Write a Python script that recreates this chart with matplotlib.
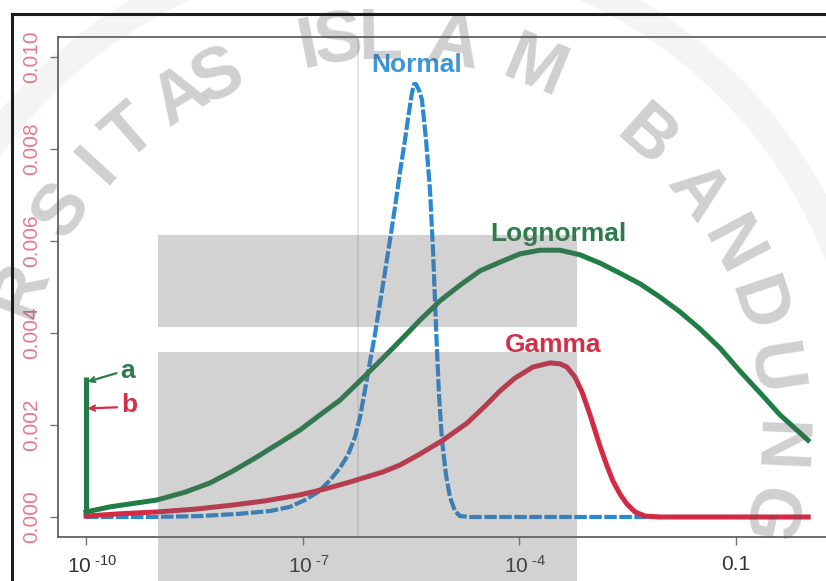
import numpy as np
import matplotlib
matplotlib.use("Agg")
import matplotlib.pyplot as plt
from matplotlib.patches import Rectangle, Wedge
from matplotlib.lines import Line2D
import matplotlib.transforms as mtransforms

plt.rcParams['font.family'] = ['Liberation Sans', 'DejaVu Sans']
plt.rcParams['mathtext.fontset'] = 'custom'
plt.rcParams['mathtext.rm'] = 'Liberation Sans'

# ---------------- data (x given as log10 of x) ----------------
normal_logx = [-10.0, -9.114, -8.422, -7.868, -7.452, -7.175, -6.968, -6.788, -6.621,
               -6.483, -6.372, -6.275, -6.206, -6.137, -6.068, -5.998, -5.929, -5.860,
               -5.791, -5.721, -5.652, -5.583, -5.528, -5.486, -5.458, -5.431, -5.389,
               -5.348, -5.292, -5.237, -5.195, -5.168, -5.140, -5.112, -5.071, -5.015,
               -4.960, -4.891, -4.821, -4.683, 0.0]
normal_y = [0.0, 0.0, 0.00002, 0.00007, 0.00013, 0.00022, 0.00037, 0.00054, 0.00080,
            0.00107, 0.00135, 0.00174, 0.00217, 0.00276, 0.00337, 0.00398, 0.00465,
            0.00533, 0.00602, 0.00674, 0.00750, 0.00820, 0.00880, 0.00922, 0.00941,
            0.00941, 0.00928, 0.00907, 0.00820, 0.00711, 0.00580, 0.00472, 0.00363,
            0.00265, 0.00167, 0.00091, 0.00043, 0.00013, 0.00002, 0.0, 0.0]

lognormal_logx = [-10.0, -9.668, -9.322, -9.017, -8.629, -8.283, -7.965, -7.660, -7.341,
                  -7.037, -6.760, -6.483, -6.206, -5.929, -5.652, -5.375, -5.098, -4.821,
                  -4.545, -4.268, -3.991, -3.714, -3.437, -3.160, -2.883, -2.606, -2.329,
                  -2.052, -1.776, -1.499, -1.221, -0.944, -0.667, -0.390, -0.003]
lognormal_y = [0.00011, 0.00022, 0.00030, 0.00037, 0.00054, 0.00074, 0.00100, 0.00128,
               0.00159, 0.00189, 0.00222, 0.00254, 0.00296, 0.00339, 0.00383, 0.00428,
               0.00470, 0.00504, 0.00535, 0.00554, 0.00572, 0.00580, 0.00580, 0.00570,
               0.00552, 0.00530, 0.00507, 0.00478, 0.00446, 0.00409, 0.00367, 0.00317,
               0.00270, 0.00222, 0.00167]

gamma_logx = [-10.0, -9.529, -9.017, -8.491, -7.965, -7.521, -7.037, -6.691, -6.345,
              -5.888, -5.652, -5.375, -5.057, -4.724, -4.475, -4.268, -4.060, -3.811,
              -3.575, -3.437, -3.340, -3.229, -3.132, -3.021, -2.883, -2.786, -2.703,
              -2.606, -2.509, -2.398, -2.260, -2.052, 0.0]
gamma_y = [0.00002, 0.00007, 0.00011, 0.00017, 0.00026, 0.00035, 0.00048, 0.00061,
           0.00076, 0.00098, 0.00113, 0.00137, 0.00167, 0.00204, 0.00241, 0.00274,
           0.00302, 0.00326, 0.00335, 0.00333, 0.00326, 0.00304, 0.00272, 0.00222,
           0.00154, 0.00111, 0.00078, 0.00050, 0.00028, 0.00011, 0.00002, 0.0, 0.0]

spike_a_y = [0.00011, 0.00304]   # lognormal jump at 1e-10 (label "a")
spike_b_y = [0.00002, 0.00239]   # gamma jump at 1e-10 (label "b")
ref_line_logx = -6.233

curve_names = ['Normal', 'Lognormal', 'Gamma']
curve_label_logx = [-5.42, -3.46, -3.53]
curve_label_y = [0.00983, 0.00615, 0.00374]

x_ticks = [1e-10, 1e-7, 1e-4, 0.1]
x_tick_labels = [r'$\mathregular{10^{\;\text{-}10}}$', r'$\mathregular{10^{\;\text{-}7}}$',
                 r'$\mathregular{10^{\;\text{-}4}}$', '0.1']
y_ticks = [0.000, 0.002, 0.004, 0.006, 0.008, 0.010]
y_tick_labels = ['0.000', '0.002', '0.004', '0.006', '0.008', '0.010']

BLUE = '#2b88d2'
GREEN = '#1f7d45'
RED = '#d52a45'
BLUE_T = '#3a96d8'
GREEN_T = '#2a7d48'
RED_T = '#d23048'

# ---------------- figure ----------------
W, H = 826, 581
fig = plt.figure(figsize=(W / 100, H / 100), dpi=100)
fig.patch.set_facecolor('white')

ax = fig.add_axes([58 / W, (H - 537) / H, (W - 58) / W, (537 - 37) / H])
ax.set_xscale('log')
ax.set_xlim(10 ** -10.3877, 10 ** 0.2464)
ax.set_ylim(-0.000435, 0.010435)

ax.axvline(10 ** ref_line_logx, color='#e4e4e4', lw=1.3, zorder=1)

x_n = 10 ** np.array(normal_logx)
x_l = 10 ** np.array(lognormal_logx)
x_g = 10 ** np.array(gamma_logx)

ax.plot([1e-10, 1e-10], spike_b_y, color=RED, lw=3.6, zorder=3, solid_capstyle='butt')
ax.plot(x_g, gamma_y, color=RED, lw=3.6, zorder=3, solid_joinstyle='round')
ax.plot(x_n, normal_y, color=BLUE, lw=3.0, ls=(0, (3.0, 0.6)), zorder=2)
ax.plot(x_l, lognormal_y, color=GREEN, lw=3.6, zorder=4, solid_joinstyle='round')
ax.plot([1e-10, 1e-10], spike_a_y, color=GREEN, lw=3.6, zorder=4, solid_capstyle='butt')

for name, lx, yy, c in zip(curve_names, curve_label_logx, curve_label_y,
                           [BLUE_T, GREEN_T, RED_T]):
    ax.text(10 ** lx, yy, name, color=c, fontsize=19, fontweight='bold',
            ha='center', va='center', zorder=5)

ax.annotate('a', xy=(1.05e-10, spike_a_y[1] - 0.0001), xytext=(10 ** -9.42, 0.00318),
            color=GREEN_T, fontsize=19, fontweight='bold', ha='center', va='center',
            arrowprops=dict(arrowstyle='->', color=GREEN_T, lw=1.6, shrinkA=1, shrinkB=0,
                            mutation_scale=9, relpos=(0.0, 0.45)), zorder=5)
ax.annotate('b', xy=(1.05e-10, spike_b_y[1] - 0.00003), xytext=(10 ** -9.40, 0.00244),
            color=RED_T, fontsize=19, fontweight='bold', ha='center', va='center',
            arrowprops=dict(arrowstyle='->', color=RED_T, lw=1.6, shrinkA=1, shrinkB=0,
                            mutation_scale=9, relpos=(0.0, 0.4)), zorder=5)

ax.set_xticks(x_ticks)
ax.set_xticklabels(x_tick_labels)
ax.minorticks_off()
ax.set_yticks(y_ticks)
ax.set_yticklabels(y_tick_labels, rotation=90, va='center')

ax.tick_params(axis='x', direction='out', length=6, width=1.0, color='#777',
               labelsize=15, labelcolor='#333333', pad=7)
ax.tick_params(axis='y', direction='out', length=6, width=1.0, color='#777',
               labelsize=15, labelcolor='#e57a8e', pad=6)
for lab in ax.get_xticklabels()[:-1]:
    lab.set_transform(lab.get_transform() +
                      mtransforms.ScaledTranslation(6 / 100, 0, fig.dpi_scale_trans))

for s in ['left', 'top', 'bottom']:
    ax.spines[s].set_color('#555555')
    ax.spines[s].set_linewidth(1.2)
ax.spines['right'].set_visible(False)

# ---------------- watermark overlay ----------------
inch = fig.dpi_scale_trans
def px(x, y):
    return x / 100, (H - y) / 100

ring = Wedge(px(385, 430), 5.0, 0, 180, width=0.28, transform=inch,
             facecolor='#888888', alpha=0.09, edgecolor='none', zorder=1)
fig.add_artist(ring)

rect_color = '#6a6a6a'
for (x0, y0, x1, y1) in [(158, 235, 577, 327), (158, 352, 577, 600)]:
    fx0, fy1 = px(x0, y0)
    fx1, fy0 = px(x1, y1)
    fig.add_artist(Rectangle((fx0, fy0), fx1 - fx0, fy1 - fy0, transform=inch,
                             facecolor=rect_color, alpha=0.30, edgecolor='none', zorder=1))

wm_letters = list("RSITASISLAMBANDUNG")
wm_angles = [159, 145.7, 137.4, 130.7, 121.6, 115.3, 101.4, 96.8, 90.7, 79.9, 67.5,
             48.3, 37.3, 28.0, 18.6, 8.9, -2.5, -12.6]
for ch, ang in zip(wm_letters, wm_angles):
    t = np.deg2rad(ang)
    xx, yy = px(385 + 398 * np.cos(t), 430 - 398 * np.sin(t))
    fig.text(xx, yy, ch, transform=inch, rotation=ang - 90, rotation_mode='anchor',
             ha='center', va='center_baseline', fontsize=52, fontweight='bold',
             family=['Liberation Sans Narrow', 'Liberation Sans'],
             color='#555555', alpha=0.28, zorder=2)

# outer frame
fig.add_artist(Line2D([0.12, 0.12], [0, (H - 14) / 100], transform=inch,
                      color='#1c1c1c', lw=2.2, zorder=4))
fig.add_artist(Line2D([0.12, W / 100], [(H - 14) / 100] * 2, transform=inch,
                      color='#1c1c1c', lw=2.2, zorder=4))

fig.savefig('out.png', dpi=100)
